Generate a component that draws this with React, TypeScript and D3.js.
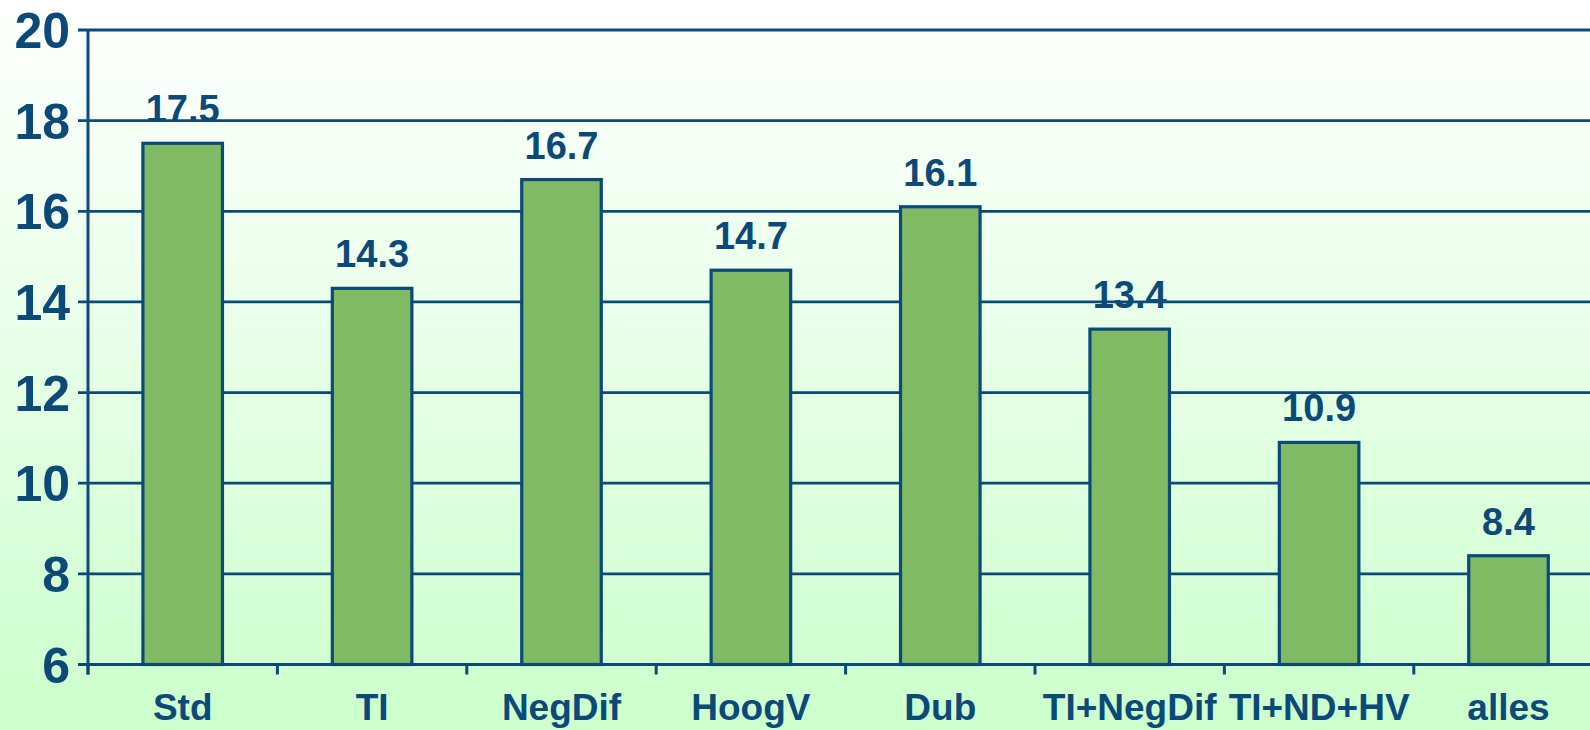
import React from "react";
import * as d3 from "d3";

const categories = ["Std", "TI", "NegDif", "HoogV", "Dub", "TI+NegDif", "TI+ND+HV", "alles"];
const values = [17.5, 14.3, 16.7, 14.7, 16.1, 13.4, 10.9, 8.4];
const yTicks = [6, 8, 10, 12, 14, 16, 18, 20];

const W = 1590;
const H = 730;
const INK = "#0b4a78";
const FONT = "'Liberation Sans', Arial, sans-serif";

export default function App() {
  React.useEffect(() => {
    document.body.style.margin = "0";
  }, []);

  const x = d3
    .scaleBand<string>()
    .domain(categories)
    .range([88, 88 + 8 * 189.4])
    .paddingInner(0.58)
    .paddingOuter(0.29);
  const y = d3.scaleLinear().domain([6, 20]).range([664.5, 30]);
  const step = x.step();
  const left = 88;
  const bottom = y(6);

  return (
    <svg width={W} height={H} style={{ display: "block", position: "fixed", left: 0, top: 0 }}>
      <defs>
        <linearGradient id="bg" x1="0" y1="0" x2="0" y2="1">
          <stop offset="0" stopColor="#ffffff" />
          <stop offset="1" stopColor="#ccffcc" />
        </linearGradient>
      </defs>
      <rect x={0} y={0} width={W} height={H} fill="url(#bg)" />
      {yTicks.map((t) => (
        <g key={t}>
          <line x1={left - 10} x2={W} y1={y(t)} y2={y(t)} stroke={INK} strokeWidth={2.8} />
          <text
            x={70}
            y={y(t)}
            dy="0.36em"
            textAnchor="end"
            fontFamily={FONT}
            fontWeight="bold"
            fontSize={50}
            fill={INK}
          >
            {t}
          </text>
        </g>
      ))}
      {categories.map((c, i) => (
        <line
          key={"t" + c}
          x1={left + i * step}
          x2={left + i * step}
          y1={bottom}
          y2={bottom + 10}
          stroke={INK}
          strokeWidth={3}
        />
      ))}
      {categories.map((c, i) => (
        <g key={c}>
          <rect
            x={x(c)!}
            y={y(values[i])}
            width={x.bandwidth()}
            height={bottom - y(values[i])}
            fill="#80ba64"
            stroke={INK}
            strokeWidth={3.2}
          />
          <text
            x={x(c)! + x.bandwidth() / 2}
            y={y(values[i]) - 21}
            textAnchor="middle"
            fontFamily={FONT}
            fontWeight="bold"
            fontSize={38}
            fill={INK}
          >
            {values[i].toFixed(1)}
          </text>
          <text
            x={x(c)! + x.bandwidth() / 2}
            y={720}
            textAnchor="middle"
            fontFamily={FONT}
            fontWeight="bold"
            fontSize={37}
            fill={INK}
          >
            {c}
          </text>
        </g>
      ))}
      <line x1={left} x2={left} y1={y(20)} y2={bottom + 10} stroke={INK} strokeWidth={3} />
      <line x1={left} x2={W} y1={bottom} y2={bottom} stroke={INK} strokeWidth={3.2} />
    </svg>
  );
}
